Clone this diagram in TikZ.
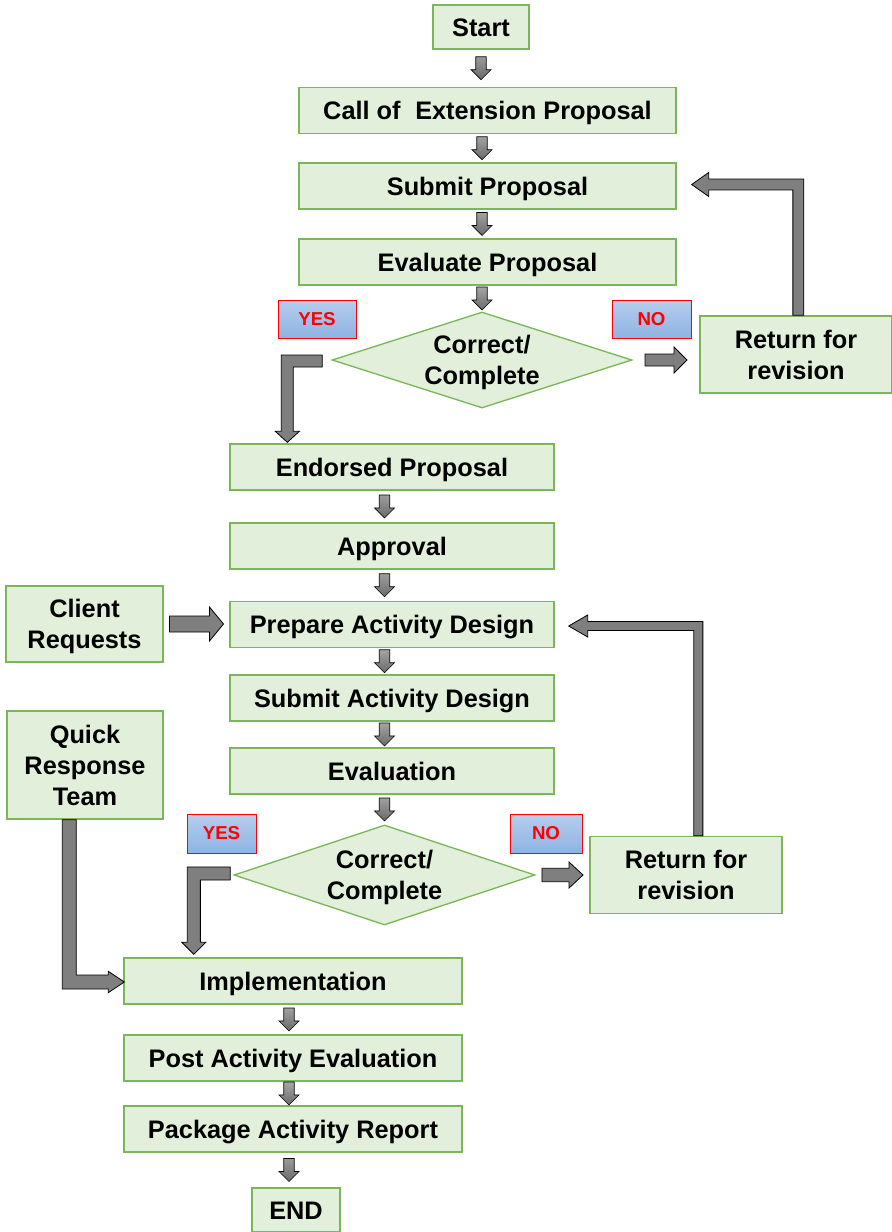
\documentclass[tikz,border=0pt]{standalone}
\usepackage{fontspec}
\setmainfont{Liberation Sans}
\usetikzlibrary{shapes.geometric,calc}

\definecolor{boxfill}{HTML}{E2EFDA}
\definecolor{boxline}{HTML}{7DB65A}
\definecolor{arrowgray}{HTML}{7F7F7F}
\definecolor{tagtop}{HTML}{B7CDEE}
\definecolor{tagbot}{HTML}{8DB3E2}
\definecolor{shadetop}{HTML}{A8A8A8}
\definecolor{shadebot}{HTML}{6A6A6A}

% taller first line, to lower two-line labels a little
\newcommand\lowerstrut{\rule{0pt}{18pt}}

\tikzset{
  % short vertical block arrow, centred in the gap between two anchors
  smalldown/.style={to path={let \p1=(\tikztostart), \p2=(\tikztotarget), \p3=($(\p1)!.5!(\p2)$) in
    (\x1-3.9pt,\y3+8.6pt) -- (\x1+3.9pt,\y3+8.6pt) -- (\x1+3.9pt,\y3-1.1pt) -- (\x1+7.5pt,\y3-1.1pt)
    -- (\x1,\y3-8.6pt) -- (\x1-7.5pt,\y3-1.1pt) -- (\x1-3.9pt,\y3-1.1pt) -- cycle}},
  % horizontal block arrow pointing right: half length, shaft half width, head half width, head length
  rarrow/.style n args={4}{to path={let \p1=(\tikztostart), \p2=(\tikztotarget), \p3=($(\p1)!.5!(\p2)$) in
    (\x3-#1pt,\y1+#2pt) -- (\x3+#1pt-#4pt,\y1+#2pt) -- (\x3+#1pt-#4pt,\y1+#3pt) -- (\x3+#1pt,\y1)
    -- (\x3+#1pt-#4pt,\y1-#3pt) -- (\x3+#1pt-#4pt,\y1-#2pt) -- (\x3-#1pt,\y1-#2pt) -- cycle}},
  % elbow arrows: shaft half width, head half width, head length
  leftdown/.style n args={3}{to path={let \p1=(\tikztostart), \p2=(\tikztotarget) in
    (\x1,\y1+#1pt) -- (\x2-#1pt,\y1+#1pt) -- (\x2-#1pt,\y2+#3pt) -- (\x2-#2pt,\y2+#3pt) -- (\x2,\y2)
    -- (\x2+#2pt,\y2+#3pt) -- (\x2+#1pt,\y2+#3pt) -- (\x2+#1pt,\y1-#1pt) -- (\x1,\y1-#1pt) -- cycle}},
  downright/.style n args={3}{to path={let \p1=(\tikztostart), \p2=(\tikztotarget) in
    (\x1-#1pt,\y1) -- (\x1+#1pt,\y1) -- (\x1+#1pt,\y2+#1pt) -- (\x2-#3pt,\y2+#1pt) -- (\x2-#3pt,\y2+#2pt)
    -- (\x2,\y2) -- (\x2-#3pt,\y2-#2pt) -- (\x2-#3pt,\y2-#1pt) -- (\x1-#1pt,\y2-#1pt) -- cycle}},
  upleft/.style n args={3}{to path={let \p1=(\tikztostart), \p2=(\tikztotarget) in
    (\x1-#1pt,\y1) -- (\x1+#1pt,\y1) -- (\x1+#1pt,\y2+#1pt) -- (\x2+#3pt,\y2+#1pt) -- (\x2+#3pt,\y2+#2pt)
    -- (\x2,\y2) -- (\x2+#3pt,\y2-#2pt) -- (\x2+#3pt,\y2-#1pt) -- (\x1-#1pt,\y2-#1pt) -- cycle}},
  barrow/.style={draw=black, line width=0.6pt, fill=arrowgray, line join=miter},
  sdarrow/.style={smalldown, draw=black, line width=0.5pt, top color=shadetop, bottom color=shadebot},
  box/.style={draw=boxline, fill=boxfill, line width=1pt, inner sep=0pt, align=center,
    font=\fontsize{19}{23.25}\selectfont\bfseries},
  one/.style={box, text height=13.7pt, text depth=0pt},
  col1/.style={one, minimum width=282.75pt, minimum height=34.5pt},
  col2/.style={one, minimum width=243pt, minimum height=34.5pt},
  col3/.style={one, minimum width=253.5pt, minimum height=34.5pt},
  retbox/.style={box, minimum width=144pt, minimum height=57.75pt},
  decision/.style={box, diamond, inner sep=-20pt},
  tag/.style={draw=red, line width=0.75pt, top color=tagtop, bottom color=tagbot, text=red,
    inner sep=0pt, font=\fontsize{14}{16}\selectfont\bfseries},
}

\begin{document}
\begin{tikzpicture}[x=0.75pt, y=-0.75pt]
\useasboundingbox (0,0) rectangle (892,1232);

% first stage: proposal
\node[one, minimum width=72pt, minimum height=33pt] (start) at (481,27) {Start};
\node[col1] (call) at (487.5,110.5) {Call of\hspace{0.3em} Extension Proposal};
\node[col1] (submit) at (487.5,186) {Submit Proposal};
\node[col1] (evaluate) at (487.5,262) {Evaluate Proposal};
\node[decision, minimum width=225pt, minimum height=72pt] (d1) at (482,360) {\lowerstrut Correct/\\Complete};
\node[retbox] (ret1) at (796,354.5) {Return for\\revision};
\node[tag, minimum width=58.5pt, minimum height=28.5pt] (yes1) at (317,319) {YES};
\node[tag, minimum width=59.25pt, minimum height=28.5pt] (no1) at (651.5,319) {NO};

% second stage: activity design
\node[col2] (endorsed) at (392,467) {Endorsed Proposal};
\node[col2] (approval) at (392,546) {Approval};
\node[col2] (prepare) at (392,624.5) {Prepare Activity Design};
\node[box, minimum width=117.75pt, minimum height=57pt] (client) at (84.5,624) {\lowerstrut Client\\Requests};
\node[col2] (submitad) at (392,698) {Submit Activity Design};
\node[col2] (evaluation) at (392,771) {Evaluation};
\node[decision, minimum width=225.75pt, minimum height=75pt] (d2) at (384.5,875) {\lowerstrut Correct/\\Complete};
\node[tag, minimum width=51.75pt, minimum height=29.25pt] (yes2) at (221.5,833.5) {YES};
\node[tag, minimum width=54pt, minimum height=29.25pt] (no2) at (546,833.5) {NO};
\node[retbox] (ret2) at (686,875) {Return for\\revision};
\node[box, minimum width=117pt, minimum height=81pt] (qrt) at (85,765) {Quick\\Response\\Team};

% third stage: implementation
\node[col3] (impl) at (293,981) {Implementation};
\node[col3] (post) at (293,1058) {Post Activity Evaluation};
\node[col3] (package) at (293,1129) {Package Activity Report};
\node[one, minimum width=66pt, minimum height=33pt] (finish) at (296,1210) {END};

% connectors, first stage
\draw[sdarrow] (start.south) to (call.north);
\draw[sdarrow] (call.south -| d1.north) to (submit.north);
\draw[sdarrow] (submit.south -| d1.north) to (evaluate.north);
\draw[sdarrow] (evaluate.south -| d1.north) to (d1.north);
\draw[barrow, leftdown={4.5}{9}{8.25}] ($(d1.west)+(-9,1)$) to ($(endorsed.north west)+(58,-1)$);
\draw[barrow, rarrow={15.75}{4.5}{9.75}{9.75}] (d1.east) to (ret1.west);
\draw[barrow, upleft={4.1}{9}{12.75}] ($(ret1.north west)+(99,0)$) to ($(submit.east)+(15,-1.5)$);

% connectors, second stage
\draw[sdarrow] (endorsed.south -| d2.north) to (approval.north);
\draw[sdarrow] (approval.south -| d2.north) to (prepare.north);
\draw[barrow, rarrow={20.25}{6}{12.75}{10.5}] (client.east) to (prepare.west);
\draw[sdarrow] (prepare.south -| d2.north) to (submitad.north);
\draw[sdarrow] (submitad.south -| d2.north) to (evaluation.north);
\draw[sdarrow] (evaluation.south -| d2.north) to (d2.north);
\draw[barrow, leftdown={4.9}{9}{9}] ($(d2.west)+(-3,-1.5)$) to ($(impl.north west)+(70.5,-3)$);
\draw[barrow, rarrow={15.4}{5}{9.75}{10.5}] (d2.east) to (ret2.west);
\draw[barrow, upleft={3.4}{8.25}{14.25}] ($(ret2.north west)+(109,0)$) to ($(prepare.east)+(14,1.5)$);
\draw[barrow, downright={5.25}{8}{12}] ($(qrt.south west)+(63,0)$) to ($(impl.west)+(1,1)$);

% connectors, third stage
\draw[sdarrow] ($(impl.south)+(-4,0)$) to (post.north);
\draw[sdarrow] ($(post.south)+(-4,0)$) to (package.north);
\draw[sdarrow] ($(package.south)+(-4,0)$) to (finish.north);
\end{tikzpicture}
\end{document}
